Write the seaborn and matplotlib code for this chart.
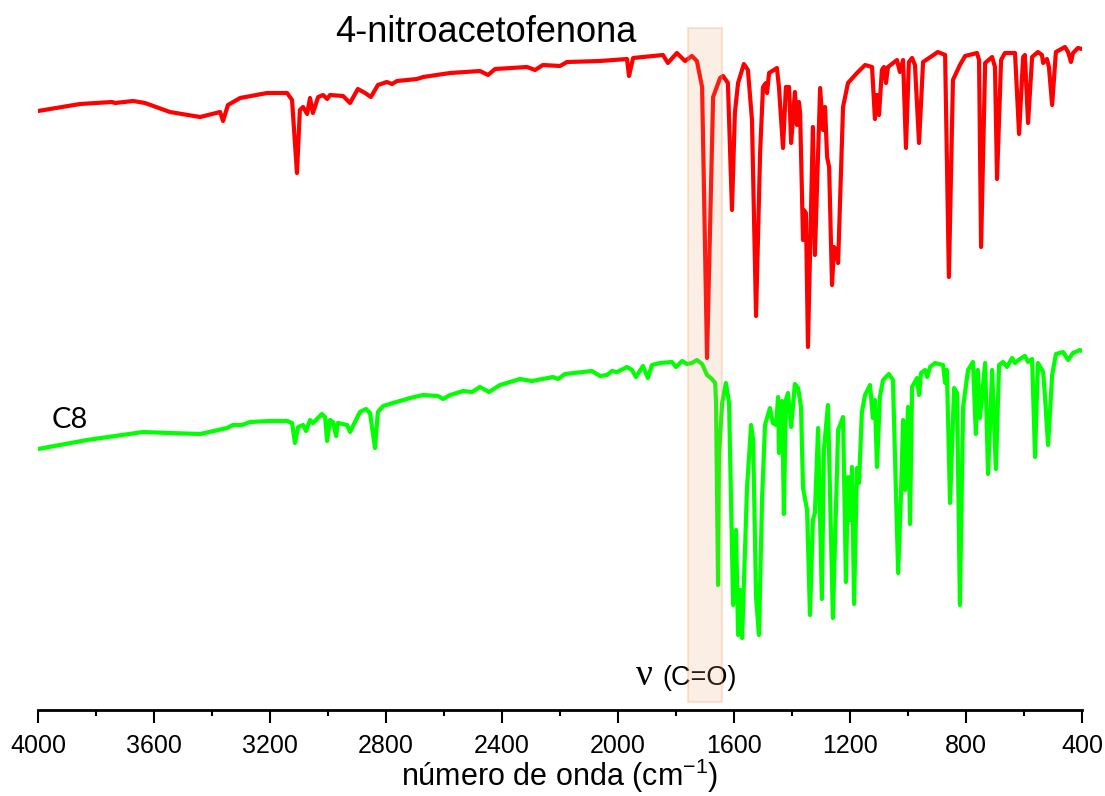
import seaborn as sns
import matplotlib.pyplot as plt
import pandas as pd

# 4-nitroacetofenona (red trace), transmittance in arbitrary units
nitro_wn = [4000, 3855, 3745, 3734, 3672, 3631, 3545, 3441, 3372, 3362, 3345, 3303,
            3210, 3141, 3124, 3107, 3097, 3086, 3072, 3062, 3052, 3034, 3017, 3003,
            2993, 2948, 2924, 2897, 2872, 2852, 2828, 2797, 2779, 2762, 2693, 2672,
            2579, 2476, 2448, 2424, 2314, 2286, 2259, 2200, 2176, 2062, 1969, 1962,
            1948, 1845, 1828, 1797, 1769, 1745, 1728, 1710, 1693, 1672, 1648, 1638,
            1621, 1607, 1597, 1586, 1566, 1552, 1538, 1524, 1510, 1500, 1490, 1486,
            1479, 1452, 1445, 1431, 1421, 1410, 1403, 1390, 1383, 1376, 1372, 1362,
            1359, 1352, 1345, 1328, 1321, 1303, 1293, 1286, 1279, 1272, 1262, 1255,
            1248, 1241, 1224, 1207, 1176, 1148, 1124, 1114, 1107, 1100, 1090, 1083,
            1076, 1069, 1038, 1028, 1017, 1007, 997, 986, 976, 962, 948, 897,
            872, 859, 845, 821, 803, 762, 755, 748, 734, 710, 700, 693,
            679, 666, 631, 617, 603, 597, 586, 572, 552, 538, 534, 521,
            514, 503, 490, 459, 448, 438, 431, 414, 400]
nitro_t = [599, 606, 608, 607, 609, 607, 598, 593, 598, 589, 605, 612,
           617, 617, 610, 537, 600, 603, 596, 612, 597, 613, 615, 611,
           615, 614, 607, 621, 617, 613, 625, 628, 626, 629, 631, 633,
           637, 639, 635, 641, 643, 640, 645, 644, 648, 649, 651, 634,
           652, 655, 647, 657, 649, 654, 649, 623, 352, 613, 632, 634,
           627, 500, 597, 627, 646, 640, 590, 394, 557, 623, 627, 617,
           637, 642, 623, 562, 623, 623, 567, 618, 585, 608, 597, 470,
           500, 497, 363, 583, 455, 622, 580, 603, 553, 543, 425, 463,
           460, 447, 603, 627, 637, 645, 643, 591, 615, 595, 640, 643,
           627, 643, 650, 638, 650, 562, 648, 652, 645, 567, 648, 658,
           655, 433, 630, 645, 654, 657, 650, 463, 647, 653, 643, 531,
           650, 657, 657, 576, 653, 655, 587, 653, 658, 655, 647, 651,
           643, 605, 658, 663, 658, 648, 657, 662, 661]

# C8 (green trace)
c8_wn = [4000, 3831, 3638, 3545, 3441, 3348, 3328, 3297, 3269, 3200, 3141, 3124,
         3114, 3103, 3086, 3076, 3062, 3052, 3021, 3010, 3003, 2993, 2983, 2972,
         2966, 2934, 2924, 2907, 2890, 2869, 2855, 2838, 2828, 2810, 2776, 2717,
         2672, 2621, 2603, 2579, 2534, 2503, 2476, 2445, 2407, 2338, 2297, 2279,
         2224, 2207, 2183, 2090, 2062, 2038, 2021, 2003, 1969, 1952, 1938, 1914,
         1897, 1883, 1855, 1814, 1800, 1779, 1762, 1745, 1728, 1710, 1693, 1676,
         1665, 1662, 1655, 1652, 1641, 1628, 1617, 1603, 1593, 1586, 1579, 1572,
         1555, 1541, 1534, 1524, 1514, 1503, 1493, 1476, 1466, 1455, 1448, 1445,
         1434, 1428, 1421, 1414, 1403, 1390, 1379, 1369, 1362, 1348, 1338, 1328,
         1321, 1310, 1297, 1290, 1276, 1259, 1241, 1224, 1214, 1207, 1200, 1193,
         1186, 1176, 1169, 1159, 1148, 1131, 1121, 1114, 1107, 1097, 1086, 1066,
         1052, 1034, 1024, 1017, 1010, 1000, 993, 986, 969, 962, 955, 941,
         934, 924, 907, 879, 872, 866, 855, 841, 831, 821, 810, 793,
         776, 766, 759, 752, 734, 724, 710, 697, 686, 672, 659, 641,
         631, 614, 597, 586, 572, 562, 552, 534, 528, 517, 503, 490,
         465, 448, 431, 407, 400]
c8_t = [261, 270, 278, 277, 276, 282, 285, 285, 288, 289, 289, 287,
        267, 283, 285, 279, 290, 287, 296, 293, 269, 290, 288, 274,
        287, 285, 278, 288, 298, 301, 297, 262, 298, 304, 307, 312,
        315, 314, 311, 315, 319, 318, 323, 318, 325, 331, 329, 330,
        333, 331, 336, 339, 334, 335, 339, 338, 343, 340, 333, 344,
        332, 345, 347, 348, 343, 349, 346, 347, 350, 346, 335, 331,
        327, 307, 125, 253, 307, 327, 307, 105, 180, 75, 120, 72,
        223, 285, 270, 113, 75, 213, 285, 302, 287, 285, 313, 257,
        309, 196, 310, 317, 283, 326, 322, 303, 222, 200, 95, 190,
        197, 282, 111, 260, 305, 92, 280, 293, 128, 233, 190, 243,
        106, 242, 227, 298, 315, 325, 292, 310, 243, 313, 330, 336,
        330, 137, 217, 290, 220, 303, 186, 323, 332, 315, 337, 340,
        333, 343, 347, 345, 327, 340, 207, 322, 317, 105, 303, 340,
        348, 276, 340, 292, 347, 236, 340, 241, 345, 348, 343, 352,
        347, 351, 354, 348, 351, 253, 347, 338, 315, 265, 335, 356,
        358, 350, 357, 360, 359]

samples = ['4-nitroacetofenona', 'C8']
carbonyl_band = (1640, 1760)
wn_ticks = list(range(4000, 399, -400))

df = pd.concat([
    pd.DataFrame({'wn': nitro_wn, 't': nitro_t, 'sample': samples[0]}),
    pd.DataFrame({'wn': c8_wn, 't': c8_t, 'sample': samples[1]}),
])

sns.set_style('white')
plt.rcParams['font.family'] = ['Liberation Sans', 'DejaVu Sans']
plt.rcParams['mathtext.default'] = 'regular'
plt.rcParams['text.color'] = 'black'
plt.rcParams['xtick.color'] = 'black'
plt.rcParams['axes.labelcolor'] = 'black'

fig = plt.figure(figsize=(11.05, 7.96), dpi=100)
ax = fig.add_axes([38 / 1105, 86 / 796, 1044 / 1105, 690 / 796])

sns.lineplot(data=df, x='wn', y='t', hue='sample', units='sample', estimator=None,
             sort=False, palette=['#ff0000', '#00ff00'], legend=False, ax=ax)
for line in ax.lines:
    line.set_linewidth(3.0)
    line.set_solid_joinstyle('round')

ax.axvspan(*carbonyl_band, ymin=0.012, ymax=0.988,
           facecolor=(0.92, 0.64, 0.43, 0.18), edgecolor=(0.93, 0.6, 0.4, 0.25),
           lw=1.5, zorder=5)

ax.set_xlim(4000, 400)
ax.set_ylim(0, 690)
ax.set_xticks(wn_ticks)
ax.set_xticks(range(3800, 400, -400), minor=True)
ax.set_yticks([])
ax.set_ylabel('')
ax.set_xlabel('número de onda (cm$^{-1}$)', fontsize=22, labelpad=-1)
ax.tick_params(axis='x', which='major', direction='out', length=9, width=1.5,
               labelsize=18, pad=8, bottom=True)
ax.tick_params(axis='x', which='minor', direction='out', length=4, width=1.5,
               bottom=True)
for s in ['left', 'top', 'right']:
    ax.spines[s].set_visible(False)
ax.spines['bottom'].set_linewidth(2)
ax.spines['bottom'].set_color('black')

ax.text(2455, 668, samples[0], fontsize=26, ha='center', va='baseline')
ax.text(3952, 282, samples[1], fontsize=21, ha='left', va='baseline',
        family=['Lato', 'DejaVu Sans'])
ax.text(1910, 25, 'ν', fontsize=27, ha='center', va='baseline',
        family=['Liberation Serif', 'DejaVu Serif'])
ax.text(1848, 25, '(C=O)', fontsize=19.5, ha='left', va='baseline')

fig.savefig('out.png', dpi=100)
